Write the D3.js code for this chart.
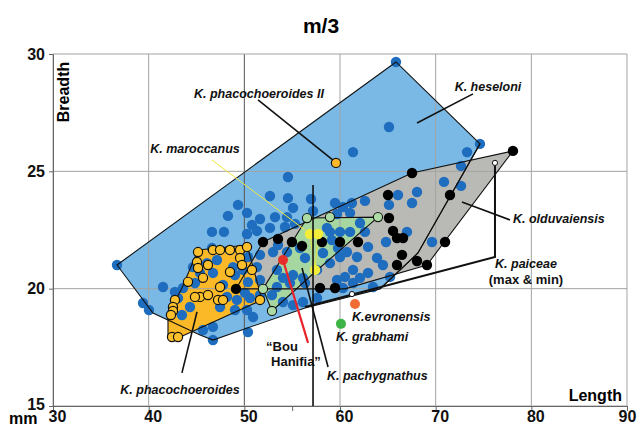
<!DOCTYPE html>
<html>
<head>
<meta charset="utf-8">
<script src="https://cdn.jsdelivr.net/npm/d3@7"></script>
<style>
  body { margin: 0; background: #fff; }
  text { font-family: "Liberation Sans", Arial, sans-serif; }
</style>
</head>
<body>
<div id="chart"></div>
<script>
// ticks
var xTicks = [30, 40, 50, 60, 70, 80, 90];
var yTicks = [15, 20, 25, 30];

// outlines of the species ranges  [length, breadth]
var heseloniHull = [[36.69,21.01],[65.85,29.66],[74.63,26.17],[68.15,21.52],[64.18,19.99],[56.34,19.18],[46.72,17.81],[45.37,18.03],[40.45,18.96]];
var olduvaiensisHull = [[49.13,19.99],[51.95,21.99],[67.53,24.93],[78.08,25.87],[69.09,21.01],[60.52,19.99]];
var phacoHull = [[45.16,21.65],[50.28,21.86],[51.85,19.52],[43.07,17.90],[42.02,17.94],[42.02,18.88],[43.48,20.03]];
var pachyHull = [[56.55,23.01],[63.97,23.05],[57.39,20.71],[52.89,19.05],[51.95,19.99]];
var heseloniInner = [[74.63,26.17],[68.15,21.52],[64.18,19.99]];

// specimens
var heseloni = [[36.69,21.01],[39.41,19.39],[40.03,19.09],[41.50,20.07],[42.75,19.86],[43.48,18.88],[43.59,20.03],[43.07,19.60],
  [44.32,19.22],[44.84,20.24],[44.63,20.92],[45.37,20.67],[46.10,21.09],[45.68,18.24],[46.72,17.81],[46.72,18.37],[50.38,18.15],
  [50.91,18.79],[46.62,21.73],[48.50,21.65],[50.38,21.35],[49.86,20.80],[48.82,20.92],[47.14,21.22],[46.72,20.67],[47.77,20.16],
  [49.02,20.58],[50.38,20.28],[48.19,19.65],[49.23,19.52],[50.07,19.82],[50.28,19.09],[49.02,19.09],[47.46,19.22],[46.62,22.42],
  [47.87,22.42],[50.28,22.33],[54.56,24.76],[52.68,23.95],[54.56,23.86],[55.09,23.44],[56.97,23.82],[49.34,23.57],[50.28,23.23],
  [48.29,23.10],[51.64,22.97],[53.21,23.05],[54.46,23.05],[50.80,22.71],[51.32,22.46],[52.68,22.59],[54.25,22.63],[55.30,22.76],
  [59.48,23.65],[60.31,23.48],[61.25,23.65],[62.61,23.74],[57.18,23.31],[59.69,23.18],[61.05,23.23],[62.09,22.80],[62.61,22.42],
  [61.05,22.42],[60.00,22.42],[58.95,22.42],[61.36,25.82],[65.12,26.89],[65.85,29.66],[74.63,26.17],[73.28,25.82],[72.65,25.23],
  [70.87,24.55],[72.65,24.38],[66.06,23.99],[68.05,24.12],[67.53,23.65],[65.12,23.57],[67.00,22.42],[64.81,21.99],[63.87,21.31],
  [61.78,21.35],[59.79,21.73],[60.00,21.35],[62.93,21.78],[62.93,20.67],[65.23,20.50],[63.45,20.07],[60.31,20.03],[69.62,21.99],
  [58.95,21.09],[58.22,21.52],[57.60,20.80],[59.69,20.37],[61.36,20.80],[60.73,21.56],[60.52,20.50],[62.09,20.46],[64.49,21.01],
  [61.36,20.24],[56.13,20.46],[55.09,20.58],[54.04,20.46],[53.41,20.80],[51.32,20.92],[51.64,21.44],[53.00,21.56],[54.46,21.56],
  [55.82,21.73],[53.41,20.07],[52.89,19.73],[51.64,19.73],[54.04,19.43],[55.09,19.30],[56.13,19.43],[57.60,19.60],[50.59,19.60],
  [56.34,21.31],[59.16,22.07],[58.64,22.59],[53.52,21.86],[51.64,20.37],[56.34,20.24],[54.77,20.24]];
var phacochoeroides = [[45.16,21.56],[46.72,21.65],[47.46,21.65],[48.50,21.65],[49.55,21.65],[50.28,21.78],[49.55,21.31],[49.76,21.01],
  [45.05,21.14],[45.16,20.88],[46.20,21.01],[48.50,20.71],[50.80,20.80],[45.68,20.46],[44.11,20.29],[47.46,20.07],[45.37,19.65],
  [44.84,19.65],[46.20,19.73],[47.25,19.52],[47.77,19.52],[42.75,19.52],[42.54,19.22],[42.54,19.05],[42.33,18.88],[42.44,17.94],
  [43.07,17.94],[51.64,19.52]];
var phacoII = [[59.58,25.36]];
var olduvaiensis = [[49.13,19.99],[51.95,21.99],[53.52,22.12],[54.98,21.99],[56.03,21.82],[58.12,21.99],[60.00,21.99],[61.88,21.99],
  [57.91,20.03],[59.48,20.03],[67.53,24.93],[78.08,25.87],[65.02,23.99],[71.50,23.99],[65.12,23.01],[65.54,22.46],[65.96,22.16],
  [66.59,22.16],[66.48,21.44],[65.96,21.01],[68.05,21.18],[69.09,21.01],[70.98,21.99]];
var pachygnathus = [[56.55,23.01],[58.95,23.05],[63.97,23.05],[51.95,19.99],[52.89,19.05]];
var maroccanus = [[56.86,22.33],[57.70,22.33],[57.39,20.80]];
var bouHanifia = [[54.04,21.22]];
var evronensis = [[61.57,19.35]];
var grabhami = [[60.10,18.50]];
var paiceae = [[76.20,25.36],[61.25,19.77]];

// label pointers
var paiceaeBracket = [[76.20,25.36],[76.20,21.35],[56.34,19.22]];
var pointers = [
  [[51.43,28.04],[59.27,25.48]],
  [[73.90,28.30],[68.05,27.06]],
  [[77.77,22.93],[72.75,23.69]],
  [[58.75,16.66],[56.03,20.88]],
  [[43.48,16.41],[45.05,19.01]],
  [[57.18,24.42],[57.18,15]]
];
var maroccanusPointer = [[46.62,25.48],[56.34,22.50]];
var bouPointer = [[54.04,21.22],[56.66,17.69]];

var labels = [
  {t: "K. phacochoeroides II", x: 51.53, y: 28.13, a: "middle"},
  {t: "K. heseloni", x: 75.47, y: 28.42, a: "middle"},
  {t: "K. maroccanus", x: 44.84, y: 25.78, a: "middle"},
  {t: "K. olduvaiensis", x: 78.08, y: 22.80, a: "start"},
  {t: "K. paiceae", x: 79.44, y: 20.88, a: "middle"},
  {t: "K.evronensis", x: 61.25, y: 18.62, a: "start"},
  {t: "K. grabhami", x: 59.58, y: 17.77, a: "start"},
  {t: "K. pachygnathus", x: 58.64, y: 16.11, a: "start"},
  {t: "K. phacochoeroides", x: 43.28, y: 15.50, a: "middle"}
];
var plainLabels = [
  {t: "(max & min)", x: 79.44, y: 20.20, a: "middle"},
  {t: "\u201CBou", x: 52.27, y: 17.34, a: "start"},
  {t: "Hanifia\u201D", x: 52.79, y: 16.71, a: "start"}
];

var margin = {top: 54, right: 10, bottom: 22, left: 53},
    width = 637 - margin.left - margin.right,
    height = 428 - margin.top - margin.bottom;

var root = d3.select("#chart").append("svg")
    .attr("width", 637)
    .attr("height", 428);
var svg = root.append("g")
    .attr("transform", "translate(" + margin.left + "," + margin.top + ")");

var x = d3.scaleLinear().domain([30, 90]).range([0, width]);
var y = d3.scaleLinear().domain([15, 30]).range([height, 0]);
var line = d3.line().x(function(d) { return x(d[0]); }).y(function(d) { return y(d[1]); });

// title
root.append("text")
    .attr("x", 321).attr("y", 33)
    .attr("text-anchor", "middle")
    .style("font-size", "21px").style("font-weight", "bold")
    .text("m/3");

// fills
function hull(pts, fill) {
  svg.append("path").attr("d", line(pts) + "Z")
      .attr("fill", fill).attr("stroke", "none");
}
hull(heseloniHull, "#7ab9e5");
hull(olduvaiensisHull, "#b9b9b5");
hull(phacoHull, "#fbb928");
hull(pachyHull, "#a7d7a0");

// grid
svg.append("g").selectAll("line.gx")
    .data(xTicks).enter().append("line")
    .attr("x1", function(d) { return x(d); }).attr("x2", function(d) { return x(d); })
    .attr("y1", 0).attr("y2", height)
    .attr("stroke", function(d) { return d == 50 ? "#555" : "#a3a3a3"; })
    .attr("stroke-width", 1);
svg.append("g").selectAll("line.gy")
    .data(yTicks).enter().append("line")
    .attr("x1", 0).attr("x2", width)
    .attr("y1", function(d) { return y(d); }).attr("y2", function(d) { return y(d); })
    .attr("stroke", "#a3a3a3").attr("stroke-width", 1);

// axes
var xAxis = svg.append("g")
    .attr("transform", "translate(0," + height + ")")
    .call(d3.axisBottom(x).tickValues(xTicks.concat([55])).tickSize(5).tickFormat(function(d) { return d == 55 ? "" : d; }));
var yAxis = svg.append("g")
    .call(d3.axisLeft(y).tickValues(yTicks).tickSize(4));
[xAxis, yAxis].forEach(function(a) {
  a.select(".domain").attr("stroke", "#666");
  a.selectAll(".tick line").attr("stroke", "#666");
  a.selectAll("text").style("font-size", "16px").style("font-weight", "bold")
      .style("font-family", "'Liberation Sans', Arial, sans-serif").attr("fill", "#111");
});
xAxis.selectAll("text").attr("y", 4).attr("dy", "0.72em")
    .attr("dx", function(d) { return d == 90 ? 0 : 4; });
yAxis.selectAll("text").attr("x", -8).attr("dy", function(d) { return d == 15 ? "0.2em" : "0.32em"; });

root.append("text").attr("x", 9).attr("y", 424)
    .style("font-size", "16px").style("font-weight", "bold").text("mm");
root.append("text").attr("x", 622).attr("y", 401).attr("text-anchor", "end")
    .style("font-size", "16px").style("font-weight", "bold").text("Length");
root.append("text").attr("transform", "translate(69,92) rotate(-90)")
    .attr("text-anchor", "middle")
    .style("font-size", "16px").style("font-weight", "bold").text("Breadth");

// points
function dots(pts, r, fill, stroke, sw) {
  svg.append("g").selectAll("circle")
      .data(pts).enter().append("circle")
      .attr("cx", function(d) { return x(d[0]); })
      .attr("cy", function(d) { return y(d[1]); })
      .attr("r", r)
      .attr("fill", fill)
      .attr("stroke", stroke || "none")
      .attr("stroke-width", sw || 0);
}
dots(heseloni, 5.2, "#1f6dbe");

// outlines over the dots
function outline(pts, closed, w) {
  svg.append("path").attr("d", line(pts) + (closed ? "Z" : ""))
      .attr("fill", "none").attr("stroke", "#111").attr("stroke-width", w || 1.1);
}
outline(heseloniHull, true);
outline(olduvaiensisHull, true);
outline(heseloniInner, false);
outline(phacoHull, true);
outline(pachyHull, true);
outline(paiceaeBracket, false, 2);

// yellow connecting lines
svg.append("path").attr("d", line([maroccanus[0], maroccanus[2], maroccanus[1]]))
    .attr("fill", "none").attr("stroke", "#e8e23a").attr("stroke-width", 1);

dots(phacochoeroides, 4.6, "#fcc02d", "#111", 1.2);
dots(phacoII, 4.6, "#fcb82a", "#111", 1.2);
dots(pachygnathus, 4.6, "#acdba5", "#111", 1.1);
dots(olduvaiensis, 5.2, "#000");
dots(maroccanus, 5.2, "#f2ec3a");
dots(bouHanifia, 5, "#e5302b");
dots(evronensis, 5, "#f06c34");
dots(grabhami, 5, "#3db445");
dots(paiceae, 2.6, "#fff", "#111", 1);

// pointers
pointers.forEach(function(p) { outline(p, false, 1.6); });
svg.append("path").attr("d", line(maroccanusPointer))
    .attr("fill", "none").attr("stroke", "#f0e640").attr("stroke-width", 1);
svg.append("path").attr("d", line(bouPointer))
    .attr("fill", "none").attr("stroke", "#e8242b").attr("stroke-width", 2.2);

// labels
svg.append("g").selectAll("text")
    .data(labels).enter().append("text")
    .attr("x", function(d) { return x(d.x); })
    .attr("y", function(d) { return y(d.y); })
    .attr("text-anchor", function(d) { return d.a; })
    .style("font-size", "12.5px").style("font-weight", "bold").style("font-style", "italic")
    .attr("fill", "#111")
    .text(function(d) { return d.t; });
svg.append("g").selectAll("text")
    .data(plainLabels).enter().append("text")
    .attr("x", function(d) { return x(d.x); })
    .attr("y", function(d) { return y(d.y); })
    .attr("text-anchor", function(d) { return d.a; })
    .style("font-size", "13px").style("font-weight", "bold")
    .attr("fill", "#111")
    .text(function(d) { return d.t; });
</script>
</body>
</html>
